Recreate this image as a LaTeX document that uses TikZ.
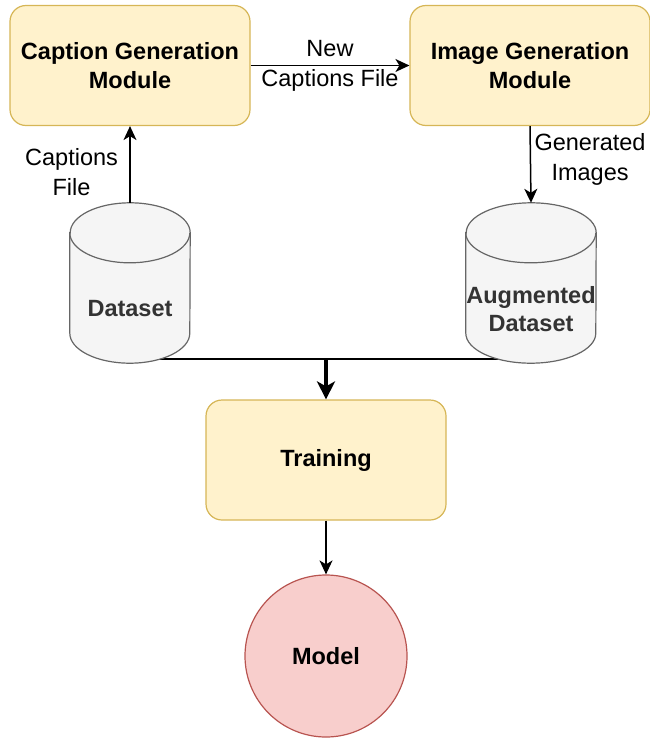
\documentclass[tikz,border=0pt]{standalone}
\usepackage{fontspec}
\setmainfont{Liberation Sans}
\usetikzlibrary{shapes.geometric,arrows.meta,positioning,backgrounds}

\definecolor{boxfill}{HTML}{FFF2CC}
\definecolor{boxline}{HTML}{D6B656}
\definecolor{dbfill}{HTML}{F5F5F5}
\definecolor{dbline}{HTML}{666666}
\definecolor{dbink}{HTML}{333333}
\definecolor{modelfill}{HTML}{F8CECC}
\definecolor{modelline}{HTML}{B85450}

\tikzset{
    module/.style={draw=boxline, fill=boxfill, rounded corners=16pt, line width=1.2pt,
        minimum width=240pt, minimum height=120pt, align=center,
        font=\fontsize{23.5}{29}\selectfont\bfseries},
    db/.style={minimum width=120pt, minimum height=160pt},
    dbshape/.style={draw=dbline, fill=dbfill, line width=1.2pt},
    dbtext/.style={text=dbink, align=center, font=\fontsize{23.5}{28}\selectfont\bfseries},
    flow/.style={-{Stealth[length=14pt,width=13pt,inset=4pt]}, line width=1.5pt},
    lbl/.style={align=center, font=\fontsize{23.5}{30}\selectfont}
}

\begin{document}
\begin{tikzpicture}[x=1pt,y=-1pt]
    \useasboundingbox (0,0) rectangle (649,738);

    % modules
    \node[module] (caption) at (130,65.5) {Caption Generation\\Module};
    \node[module] (image) at (530,65.5) {Image Generation\\Module};
    \node[module] (training) at (326,460) {Training};

    % datasets
    \node[db, label={[dbtext,yshift=-26pt]center:Dataset}] (dataset) at (130,283) {};
    \node[db, minimum width=130pt, label={[dbtext,yshift=-26pt]center:Augmented\\Dataset}] (aug) at (531,283) {};

    % model
    \node[circle, draw=modelline, fill=modelfill, line width=1.2pt, minimum size=162pt,
        font=\fontsize{23.5}{29}\selectfont\bfseries] (model) at (326,656) {Model};

    % arrows
    \coordinate (join) at (326,359);
    \begin{scope}[on background layer]
        \draw[line width=1.5pt] (dataset.south |- join) -- (aug.south |- join);
        % cylinder outlines
        \foreach \db/\r in {dataset/60,aug/65} {
            \draw[dbshape] ([yshift=-30pt]\db.north west) -- ([yshift=30pt]\db.south west)
                arc[start angle=180, end angle=360, x radius=\r pt, y radius=30pt]
                -- ([yshift=-30pt]\db.north east)
                arc[start angle=0, end angle=180, x radius=\r pt, y radius=30pt] -- cycle;
            \draw[dbshape, fill=none] ([yshift=-30pt]\db.north west)
                arc[start angle=180, end angle=360, x radius=\r pt, y radius=30pt];
        }
    \end{scope}
    \draw[flow] (dataset.north) -- node[lbl, pos=0.4, left=8pt] {Captions\\File} (caption.south);
    \draw[flow] (caption) -- node[lbl] {New\\Captions File} (image);
    \draw[flow] (image.south) -- node[lbl, pos=0.43, right=0pt] {Generated\\Images} (aug.north);
    \draw[-{Stealth[length=18pt,width=18pt,inset=5pt]}, line width=3.5pt] (join) -- (training.north);
    \draw[flow] (training) -- (model);
\end{tikzpicture}
\end{document}
